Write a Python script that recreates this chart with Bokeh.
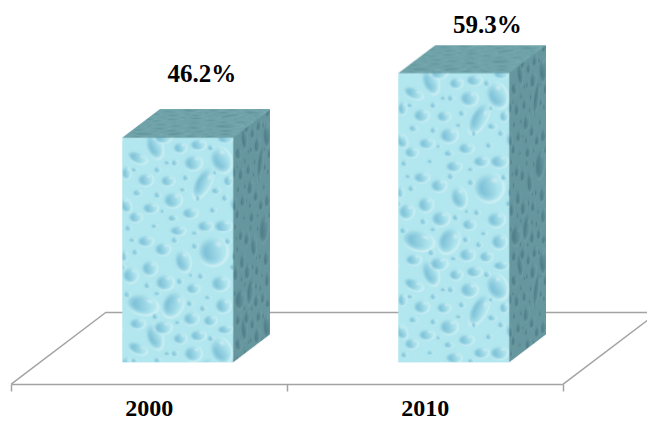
import numpy as np
from bokeh.core.properties import value
from bokeh.embed import file_html
from bokeh.models import ColumnDataSource, FixedTicker, Range1d
from bokeh.plotting import figure
from bokeh.resources import INLINE

# Chart values
years = ["2000", "2010"]
shares = [46.2, 59.3]
labels = ["46.2%", "59.3%"]

# Frame and value scale
WIDTH, HEIGHT = 647, 422
PX_PER_X = 276.0
PX_PER_Y = 4.86
X_START, X_END = -177.0 / PX_PER_X, 470.0 / PX_PER_X
Y_START, Y_END = -60.3 / PX_PER_Y, 361.7 / PX_PER_Y

# Box proportions in pixels
BOX_W, BOX_DX, BOX_DY = 110, 37.5, 28.5
half_w = BOX_W / 2 / PX_PER_X
dx_data = BOX_DX / PX_PER_X
dy_data = BOX_DY / PX_PER_Y

# Floor plane: front edge level, slot offset from the box centres, and depth
FLOOR_FRONT = -22.0 / PX_PER_Y
SLOT_SHIFT = 28.3 / PX_PER_X
FLOOR_DX = 94.5 / PX_PER_X
FLOOR_BACK = 49.7 / PX_PER_Y

# Droplets on one 110x191 tile of the water texture: cx, cy, rx, ry, tilt in degrees
TILE_W, TILE_H = 110, 191
droplets = [
    (32, 8, 7, 12, -20), (57, 10, 6, 5, 0), (75, 7, 7, 5, 0), (98, 22, 9, 12, -25),
    (15, 20, 9, 5, 25), (70, 25, 8, 7, 0), (80, 45, 7, 15, 28), (4, 35, 4, 6, 0),
    (23, 42, 7, 6, 0), (45, 43, 6, 5, 0), (105, 43, 4, 5, 0), (50, 62, 8, 7, 0),
    (15, 55, 4, 3, 0), (35, 57, 3, 3, 0), (3, 67, 5, 7, -30), (28, 70, 7, 5, 0),
    (67, 75, 7, 5, 0), (13, 79, 6, 5, 0), (50, 80, 4, 3, 0), (82, 88, 7, 5, 0),
    (100, 88, 8, 6, 0), (55, 93, 7, 5, 0), (52, 25, 3, 3, 0), (35, 32, 3, 3, 0),
    (93, 53, 4, 3, 0), (63, 40, 3, 3, 0), (90, 72, 3, 3, 0), (23, 104, 7, 5, 0),
    (40, 112, 7, 6, 0), (90, 114, 13, 13, 0), (60, 124, 7, 10, -15), (27, 131, 7, 7, 0),
    (8, 138, 7, 7, 0), (42, 145, 8, 7, 0), (70, 151, 6, 5, 0), (97, 146, 8, 7, 0),
    (20, 167, 14, 9, 15), (50, 167, 9, 12, 25), (100, 168, 7, 7, 0), (68, 181, 7, 6, 0),
    (87, 183, 6, 5, 0), (15, 186, 7, 5, 0), (40, 190, 8, 6, 0), (102, 1, 7, 4, 0),
    (13, 115, 3, 3, 0), (2, 119, 3, 5, 0), (72, 109, 3, 3, 0), (57, 144, 3, 3, 0),
    (25, 148, 3, 3, 0), (78, 139, 3, 3, 0), (67, 166, 3, 3, 0), (33, 179, 3, 3, 0),
    (80, 171, 3, 3, 0), (45, 25, 3, 2, 0), (88, 10, 3, 3, 0), (12, 32, 3, 2, 0),
    (92, 35, 2, 2, 0), (60, 52, 3, 2, 0), (102, 60, 3, 3, 0), (75, 60, 2, 3, 0),
    (40, 73, 2, 2, 0), (6, 90, 3, 3, 0), (32, 88, 3, 2, 0), (72, 96, 3, 2, 0),
    (52, 103, 3, 3, 0), (105, 104, 3, 3, 0), (10, 103, 3, 2, 0), (68, 138, 2, 2, 0),
    (110, 130, 3, 3, 0), (85, 160, 3, 2, 0), (35, 156, 3, 2, 0), (5, 157, 3, 3, 0),
    (55, 185, 3, 2, 0),
]

SS = 3  # texture supersampling


def smooth(a, passes=4):
    for _ in range(passes):
        for axis in (0, 1):
            a = (np.roll(a, 1, axis) + 2 * a + np.roll(a, -1, axis)) / 4
    return a


def build_tile():
    h, w = TILE_H * SS, TILE_W * SS
    yy, xx = np.mgrid[0:h, 0:w]
    xx = (xx + 0.5) / SS
    yy = (yy + 0.5) / SS
    dark = np.zeros((h, w))
    light = np.zeros((h, w))
    for cx, cy, rx, ry, tilt in droplets:
        ang = np.radians(tilt)
        ox = (xx - cx + TILE_W / 2) % TILE_W - TILE_W / 2
        oy = (yy - cy + TILE_H / 2) % TILE_H - TILE_H / 2
        a = (ox * np.cos(ang) + oy * np.sin(ang)) / rx
        b = (-ox * np.sin(ang) + oy * np.cos(ang)) / ry
        d = np.hypot(a, b)
        mask = np.clip((1.15 - d) / 0.55, 0, 1)
        # colour pools on the left of a drop and fades out towards its right
        shade = np.clip(0.42 - 0.5 * a + 0.12 * b, 0.03, 0.95)
        dark = np.maximum(dark * (1 - mask), mask * shade)
        # pale rim on the lower right, small glint at the upper right
        rim_side = np.clip(0.5 + 0.6 * a + 0.5 * b, 0, 1)
        rim = np.clip(1 - np.abs(d - 1.12) / 0.22, 0, 1) * 0.6 * rim_side
        spot = np.exp(-(((a - 0.42) / 0.28) ** 2 + ((b + 0.55) / 0.2) ** 2)) * mask
        light = np.maximum(light * (1 - mask), np.maximum(rim, spot * 0.95))
    return smooth(dark), smooth(light, 2)


tile_dark, tile_light = build_tile()

PALETTE = {
    "front": ((178, 231, 239), (108, 180, 208), (228, 247, 250)),
    "side": ((102, 150, 158), (70, 116, 130), (126, 168, 174)),
    "top": ((112, 164, 170), (92, 144, 152), (138, 182, 186)),
}


def face_colour(u, v, face):
    base, deep, pale = (np.array(c, float) for c in PALETTE[face])
    iy = (v * SS).astype(int) % (TILE_H * SS)
    ix = (u * SS).astype(int) % (TILE_W * SS)
    d = tile_dark[iy, ix][..., None]
    l = tile_light[iy, ix][..., None]
    rgb = base * (1 - l) + pale * l
    return rgb * (1 - d) + deep * d


def box_texture(front_h):
    """RGBA picture of a box, sized from the front face height in pixels."""
    w_px = int(np.ceil(BOX_W + BOX_DX))
    h_px = int(np.ceil(front_h + BOX_DY))
    yy, xx = np.mgrid[0:h_px * SS, 0:w_px * SS]
    X = (xx + 0.5) / SS * (BOX_W + BOX_DX) / w_px
    Y = (yy + 0.5) / SS * (front_h + BOX_DY) / h_px
    rgb = np.zeros(X.shape + (3,))
    alpha = np.zeros(X.shape)

    t = (BOX_DY - Y) / BOX_DY
    top = (Y < BOX_DY) & (X - t * BOX_DX >= 0) & (X - t * BOX_DX < BOX_W)
    rgb[top] = face_colour(X[top] - t[top] * BOX_DX, (1 - t[top]) * TILE_H, "top")
    alpha[top] = 1

    front = (X < BOX_W) & (Y >= BOX_DY) & (Y < BOX_DY + front_h)
    rgb[front] = face_colour(X[front], Y[front] - BOX_DY, "front")
    alpha[front] = 1

    s = (X - BOX_W) / BOX_DX
    side = (X >= BOX_W) & (Y >= BOX_DY * (1 - s)) & (Y < BOX_DY * (1 - s) + front_h)
    rgb[side] = face_colour(s[side] * TILE_W, Y[side] - BOX_DY * (1 - s[side]), "side")
    alpha[side] = 1

    # box-filter down to one sample per screen pixel, keeping edges soft
    def down(a):
        return a.reshape(h_px, SS, w_px, SS, *a.shape[2:]).mean(axis=(1, 3))

    a = down(alpha)
    c = down(rgb * alpha[..., None]) / np.maximum(a, 1e-6)[..., None]
    out = np.zeros((h_px, w_px), dtype=np.uint32)
    view = out.view(dtype=np.uint8).reshape(h_px, w_px, 4)
    view[..., :3] = np.clip(c, 0, 255).astype(np.uint8)
    view[..., 3] = np.clip(a * 255, 0, 255).astype(np.uint8)
    return out[::-1]


p = figure(
    width=WIDTH, height=HEIGHT,
    x_range=Range1d(X_START, X_END), y_range=Range1d(Y_START, Y_END),
    output_backend="svg", toolbar_location=None,
    min_border_left=0, min_border_right=0, min_border_top=0, min_border_bottom=0,
)
p.outline_line_color = None
p.background_fill_color = "white"
p.border_fill_color = "white"
p.grid.visible = False
p.yaxis.visible = False

# Category axis along the front edge of the floor: labels in the slots, ticks between them
slot_edges = [-0.5 - SLOT_SHIFT + i for i in range(len(years) + 1)]
slot_mids = [i - SLOT_SHIFT for i in range(len(years))]
ax = p.xaxis[0]
ax.fixed_location = FLOOR_FRONT
ax.ticker = FixedTicker(ticks=slot_mids, minor_ticks=slot_edges)
ax.major_label_overrides = {m: y for m, y in zip(slot_mids, years)}
ax.bounds = (slot_edges[0], slot_edges[-1])
ax.axis_line_color = "#a3a3a3"
ax.axis_line_width = 1.5
ax.major_tick_line_color = None
ax.major_tick_out = 0
ax.major_tick_in = 0
ax.minor_tick_line_color = "#a3a3a3"
ax.minor_tick_line_width = 1.5
ax.minor_tick_out = 7
ax.minor_tick_in = 0
ax.major_label_standoff = 10
ax.major_label_text_font = "Liberation Serif"
ax.major_label_text_font_style = "bold"
ax.major_label_text_font_size = "24px"
ax.major_label_text_color = "black"

# Floor outline behind the boxes
p.multi_line(
    xs=[[slot_edges[0], slot_edges[0] + FLOOR_DX, slot_edges[-1] + FLOOR_DX, slot_edges[-1]]],
    ys=[[FLOOR_FRONT, FLOOR_BACK, FLOOR_BACK, FLOOR_FRONT]],
    line_color="#a3a3a3", line_width=1.5,
)

# Faces of each box from its value
for i, share in enumerate(shares):
    left, right = i - half_w, i + half_w
    p.patch([left, right, right, left], [0, 0, share, share], fill_color="#b2e7ef", line_color=None)
    p.patch([left, right, right + dx_data, left + dx_data],
            [share, share, share + dy_data, share + dy_data], fill_color="#70a4aa", line_color=None)
    p.patch([right, right + dx_data, right + dx_data, right],
            [0, dy_data, share + dy_data, share], fill_color="#66969e", line_color=None)
    p.image_rgba(image=[box_texture(share * PX_PER_Y)], x=left, y=0,
                 dw=(BOX_W + BOX_DX) / PX_PER_X, dh=share + dy_data)

# Value labels above the boxes
source = ColumnDataSource(dict(
    x=list(range(len(shares))), y=shares, text=labels,
    dx=[24.3, 33.8], dy=[-64.3, -49.3],
))
p.text(x="x", y="y", text="text", x_offset="dx", y_offset="dy", source=source,
       text_align="center", text_baseline="middle", text_color="black",
       text_font=value("Liberation Serif"), text_font_style="bold", text_font_size="25px")

open("out.html", "w").write(file_html(p, INLINE))
